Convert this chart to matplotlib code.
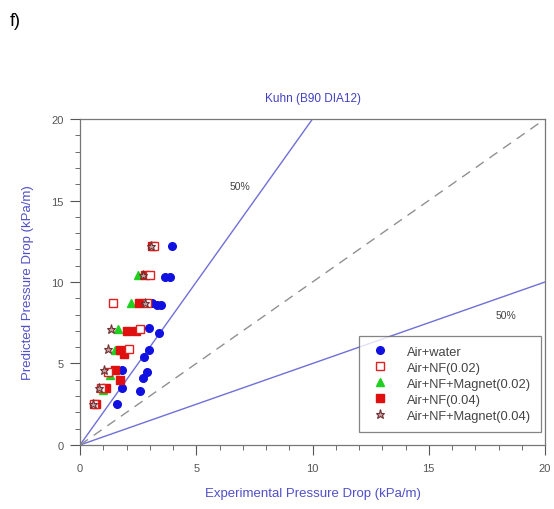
import matplotlib
matplotlib.use("Agg")
import matplotlib.pyplot as plt
from matplotlib.ticker import MultipleLocator

plt.rcParams['font.family'] = ['Liberation Sans', 'DejaVu Sans']

# Data
water_x = [3.96, 3.66, 3.87, 3.1, 3.3, 3.5, 2.95, 3.4, 2.95, 2.75, 2.9, 2.7, 1.8, 1.8, 2.6, 1.6]
water_y = [12.2, 10.3, 10.3, 8.7, 8.6, 8.6, 7.2, 6.9, 5.8, 5.4, 4.5, 4.1, 4.6, 3.5, 3.3, 2.5]

nf02_x = [3.2, 3.0, 2.9, 1.4, 2.6, 2.1, 1.2, 0.9, 0.6]
nf02_y = [12.2, 10.4, 8.7, 8.7, 7.1, 5.9, 4.5, 3.5, 2.5]

nfm02_x = [2.5, 2.2, 1.65, 1.5, 1.3, 1.0]
nfm02_y = [10.4, 8.7, 7.1, 5.8, 4.3, 3.4]

nf04_x = [3.1, 2.8, 2.55, 2.0, 2.4, 1.7, 1.9, 1.5, 1.7, 1.1, 0.7]
nf04_y = [12.2, 10.4, 8.7, 7.0, 7.0, 5.8, 5.6, 4.6, 4.0, 3.5, 2.5]

nfm04_x = [3.05, 2.7, 2.8, 1.35, 1.2, 1.05, 0.8, 0.55]
nfm04_y = [12.2, 10.4, 8.7, 7.1, 5.9, 4.6, 3.5, 2.5]

labels = ["Air+water", "Air+NF(0.02)", "Air+NF+Magnet(0.02)", "Air+NF(0.04)", "Air+NF+Magnet(0.04)"]

fig = plt.figure(figsize=(5.54, 5.10), dpi=100)
ax = fig.add_axes([0.1444, 0.1255, 0.8394, 0.6392])

line_col = '#6f6fd8'
ax.plot([0, 10], [0, 20], color=line_col, lw=1.0, zorder=1)
ax.plot([0, 20], [0, 10], color=line_col, lw=1.0, zorder=1)
ax.plot([0, 20], [0, 20], color='#909090', lw=1.0, ls=(0, (7, 5)), zorder=1)

ax.plot(water_x, water_y, 'o', color='#1010e0', ms=5.5, ls='none', label=labels[0], zorder=3)
ax.plot(nf02_x, nf02_y, 's', mfc='white', mec='#e02020', ms=5.5, mew=1.0, ls='none', label=labels[1], zorder=4)
ax.plot(nfm02_x, nfm02_y, '^', color='#20d020', ms=5.5, ls='none', label=labels[2], zorder=3)
ax.plot(nf04_x, nf04_y, 's', color='#e01010', ms=5.5, ls='none', label=labels[3], zorder=3)
ax.plot(nfm04_x, nfm04_y, '*', mfc='#c0a0a0', mec='#703030', ms=6.5, mew=0.8, ls='none', label=labels[4], zorder=5)

ax.set_xlim(0, 20)
ax.set_ylim(0, 20)
ax.xaxis.set_major_locator(MultipleLocator(5))
ax.xaxis.set_minor_locator(MultipleLocator(1))
ax.yaxis.set_major_locator(MultipleLocator(5))
ax.yaxis.set_minor_locator(MultipleLocator(1))
ax.tick_params(which='major', direction='out', length=7, width=0.8, color='#555555',
               labelsize=8, labelcolor='#555555', pad=5)
ax.tick_params(axis='x', which='major', pad=6)
ax.tick_params(which='minor', direction='out', length=3.5, width=0.6, color='#555555')
for s in ax.spines.values():
    s.set_color('#777777')
    s.set_linewidth(0.9)

ax.set_xlabel("Experimental Pressure Drop (kPa/m)", color='#5050c8', fontsize=9.5, labelpad=10)
ax.set_ylabel("Predicted Pressure Drop (kPa/m)", color='#5050c8', fontsize=9.5, labelpad=12)
ax.set_title("Kuhn (B90 DIA12)", color='#4040c0', fontsize=8.5, pad=13)

ax.text(6.9, 15.9, "50%", fontsize=7.5, color='#444444', ha='center', va='center')
ax.text(18.3, 8.0, "50%", fontsize=7.5, color='#444444', ha='center', va='center')

leg = ax.legend(loc='lower right', bbox_to_anchor=(0.992, 0.04), fontsize=9.3, frameon=True,
                fancybox=False, edgecolor='#666666', handlelength=1.6, handletextpad=1.3,
                labelspacing=0.3, borderpad=0.8, borderaxespad=0.0)
leg.get_frame().set_linewidth(0.9)
for t in leg.get_texts():
    t.set_color('#444444')

fig.text(0.018, 0.957, "f)", fontsize=13, color='black', ha='left', va='center')

fig.savefig("out.png", dpi=100)
